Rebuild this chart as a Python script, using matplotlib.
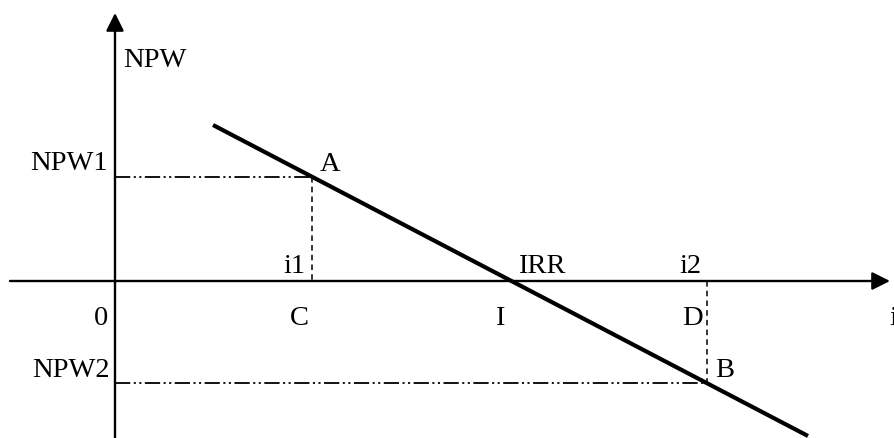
import matplotlib
matplotlib.use('Agg')
import matplotlib.pyplot as plt

plt.rcParams['font.family'] = ['Liberation Serif', 'DejaVu Serif']
plt.rcParams['lines.scale_dashes'] = False

# NPW vs interest rate (linear interpolation sketch for IRR)
line_i = [98, 693]
line_npw = [156, -155]
i1, npw1 = 197, 104          # point A
i2, npw2 = 592, -102         # point B
x_range = [-105, 775]
y_range = [-157, 268]

fig = plt.figure(figsize=(8.95, 4.38), dpi=100)
ax = fig.add_axes([0, 0, 1, 1])
ax.set_xlim(-115, 780)
ax.set_ylim(-157, 281)
ax.axis('off')

arrow = dict(arrowstyle='-|>,head_length=0.6,head_width=0.3', lw=1.7,
             color='k', mutation_scale=18, shrinkA=0, shrinkB=0)
ax.annotate('', xy=(x_range[1], 0), xytext=(x_range[0], 0), arrowprops=arrow)
ax.annotate('', xy=(0, y_range[1]), xytext=(0, y_range[0]), arrowprops=arrow)

dashdotdot = (0, (11, 2.5, 1.5, 2.5, 1.5, 2.5))
ax.plot([0, i1], [npw1, npw1], color='k', lw=1.3, ls=dashdotdot)
ax.plot([0, i2], [npw2, npw2], color='k', lw=1.3, ls=dashdotdot)
ax.plot([i1, i1], [npw1, 0], color='k', lw=1.1, ls=(0, (4, 3)))
ax.plot([i2, i2], [0, npw2], color='k', lw=1.1, ls=(0, (4, 3)))

ax.plot(line_i, line_npw, color='k', lw=3, solid_capstyle='butt')

fs = 20.5
txt = dict(fontsize=fs, va='baseline')
ax.text(8, 214, 'NPW', ha='left', **txt)
ax.text(-7, 111, 'NPW1', ha='right', **txt)
ax.text(-5, -96, 'NPW2', ha='right', **txt)
ax.text(205, 110, 'A', ha='left', **txt)
ax.text(600, -96, 'B', ha='left', **txt)
ax.text(190, 8, 'i1', ha='right', **txt)
ax.text(587, 8, 'i2', ha='right', **txt)
ax.text(403, 8, 'IRR', ha='left', **txt)
ax.text(-7, -44, '0', ha='right', **txt)
ax.text(184, -44, 'C', ha='center', **txt)
ax.text(385, -44, 'I', ha='center', **txt)
ax.text(588, -44, 'D', ha='right', **txt)
ax.text(774, -44, 'i', ha='left', **txt)

fig.savefig('out.png', dpi=100)
